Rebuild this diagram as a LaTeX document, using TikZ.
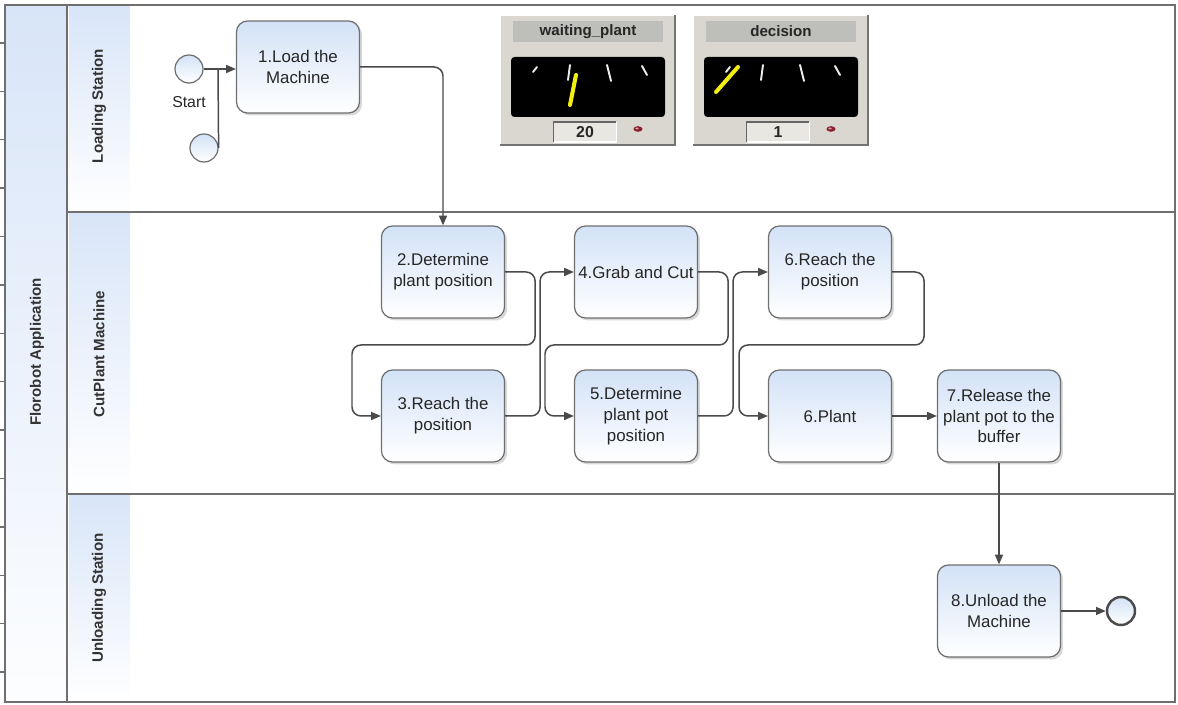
\documentclass[tikz,border=0pt]{standalone}
\usepackage{fontspec}
\setmainfont{Liberation Sans}
\usetikzlibrary{arrows.meta,shadows}
\definecolor{laneblue}{HTML}{D8E5F8}
\definecolor{taskblue}{HTML}{D3E2F7}
\definecolor{edgegray}{HTML}{6F6F6F}
\definecolor{flowgray}{HTML}{4A4A4A}
\definecolor{panelgray}{HTML}{D9D7CF}
\definecolor{bargray}{HTML}{BEBEBB}
\definecolor{needleyellow}{HTML}{F2EE10}
\definecolor{lampred}{HTML}{8A1F2E}
\newcommand{\gaugepanel}[5]{%
  \begin{scope}[shift={(#2)}]
    \fill[panelgray] (0,0) rectangle (175,130);
    \draw[white, line width=1pt] (0,130) -- (0,0) -- (175,0);
    \draw[black!55, line width=1.4pt] (0,130) -- (175,130) -- (175,0);
    \node[gaugetitle] (#1 title) at (88,16.5) {#3};
    \fill[black, rounded corners=2pt] (11,42) rectangle (165,102);
    \foreach \p/\q in {{33,57}/{37,52}, {70,50}/{68,65}, {107,50}/{111,66}, {142,51}/{147,60}}
      \draw[gaugetick] (\p) -- (\q);
    \draw[needle] #5;
    \node[gaugevalue] (#1 value) at (85,117) {#4};
    \draw[black!60, line width=0.8pt] (#1 value.south west) |- (#1 value.north east);
    \draw[white, line width=0.8pt] (#1 value.south west) -| (#1 value.north east);
    \fill[lampred] (138,114) ellipse [x radius=2.6pt, y radius=1.6pt];
    \fill[lampred!40!white] (137,113.5) ellipse [x radius=1pt, y radius=0.6pt];
  \end{scope}}

\begin{document}
\begin{tikzpicture}[x=0.02cm, y=-0.02cm,
  task/.style={rectangle, rounded corners=0.22cm, draw=edgegray, line width=0.7pt,
               top color=taskblue, bottom color=white,
               drop shadow={opacity=0.3, shadow xshift=0.05cm, shadow yshift=-0.05cm},
               minimum width=2.46cm, minimum height=1.84cm, inner sep=2pt,
               align=center, text=black!85, font=\fontsize{9.6}{11.9}\selectfont},
  event/.style={circle, draw=edgegray, line width=0.7pt, top color=taskblue,
                bottom color=white, minimum size=0.56cm, inner sep=0pt},
  endevent/.style={event, draw=flowgray, line width=1.4pt},
  flow/.style={draw=flowgray, line width=0.85pt, rounded corners=0.18cm,
               -{Triangle[length=5.5pt, width=4.5pt]}},
  lanetitle/.style={rotate=90, text=black!80, font=\bfseries\fontsize{8.6}{10}\selectfont},
  gaugetitle/.style={fill=bargray, minimum width=3cm, minimum height=0.42cm, inner sep=0pt,
                     text=black!85, font=\bfseries\fontsize{8.6}{10}\selectfont},
  gaugevalue/.style={fill=panelgray!60!white, minimum width=1.24cm, minimum height=0.38cm,
                     inner sep=0pt, text=black!85, font=\bfseries\fontsize{9}{10}\selectfont},
  gaugetick/.style={white!85!gray, line width=1.1pt, line cap=round},
  needle/.style={needleyellow, line width=2.3pt, line cap=round},
]
\useasboundingbox (0,0) rectangle (1178,705);
\fill[top color=laneblue, bottom color=white!94!laneblue] (6,6) rectangle (67,702);
\foreach \ya/\yb in {6/212, 212/494, 494/702}
  \fill[top color=laneblue, bottom color=white] (69,\ya) rectangle (130,\yb);
\draw[edgegray, line width=1.2pt] (5,5) rectangle (1175,702);
\draw[edgegray, line width=1.4pt] (67,5) -- (67,702);
\draw[edgegray, line width=1pt] (67,212) -- (1175,212) (67,494) -- (1175,494);
\foreach \k in {0,...,13}
  \draw[edgegray, line width=0.8pt] (0,{43+48.4*\k}) -- (4,{43+48.4*\k});

\node[lanetitle] (florobot) at (37,352) {Florobot Application};
\node[lanetitle] (loading) at (99,106) {Loading Station};
\node[lanetitle] (cutplant) at (99,354) {CutPlant Machine};
\node[lanetitle] (unloading) at (99,598) {Unloading Station};

\gaugepanel{waiting}{500,15}{waiting\_plant}{20}{(70,90) -- (76,60)}
\gaugepanel{decision}{693,15}{decision}{1}{(23,77) -- (45,52)}

\node[event] (start) at (189,69) {};
\node[font=\fontsize{9}{11}\selectfont, text=black!85] (start label) at (189,102) {Start};
\node[event] (start2) at (204,148) {};
\node[endevent] (finish) at (1121,611) {};
\coordinate (merge) at (218,69);

\node[task] (load) at (298,67) {1.Load the\\Machine};
\node[task] (locate) at (443,272) {2.Determine\\plant position};
\node[task] (reach) at (443,416) {3.Reach the\\position};
\node[task] (cut) at (636,272) {4.Grab and Cut};
\node[task] (potpos) at (636,416) {5.Determine\\plant pot\\position};
\node[task] (reachpot) at (830,272) {6.Reach the\\position};
\node[task] (plant) at (830,416) {6.Plant};
\node[task] (release) at (999,416) {7.Release the\\plant pot to the\\buffer};
\node[task] (unload) at (999,611) {8.Unload the\\Machine};

\draw[flow] (start) -- (start -| load.west);
\draw[draw=flowgray, line width=0.85pt] (start2.east) -- (merge);
\draw[flow] (load.east) -| (locate.north);
\draw[flow] (locate.east) -- ++(30,0) |- (352,345) |- (reach.west);
\draw[flow] (reach.east) -- ++(35,0) |- (cut.west);
\draw[flow] (cut.east) -- ++(30,0) |- (545,345) |- (potpos.west);
\draw[flow] (potpos.east) -- ++(35,0) |- (reachpot.west);
\draw[flow] (reachpot.east) -- ++(32,0) |- (739,345) |- (plant.west);
\draw[flow] (plant) -- (release);
\draw[flow] (release) -- (unload);
\draw[flow] (unload) -- (finish);
\end{tikzpicture}
\end{document}
